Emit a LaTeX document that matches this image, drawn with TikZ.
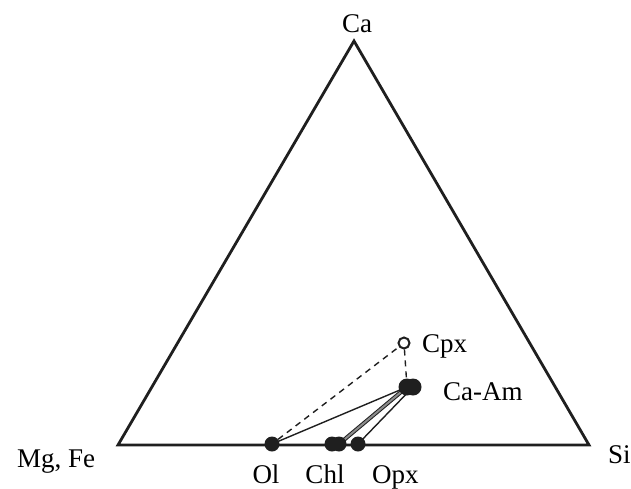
\documentclass[tikz,border=0pt]{standalone}
\usepackage{fontspec}
\setmainfont{Liberation Serif}
\usetikzlibrary{backgrounds}
\begin{document}
\begin{tikzpicture}[x=1pt,y=-1pt,
  lab/.style={inner sep=0pt,font=\fontsize{27}{27}\selectfont},
  dot/.style={circle,fill=black!88,inner sep=0pt,minimum size=15pt},
  bigdot/.style={circle,fill=black!88,inner sep=0pt,minimum size=17pt},
  odot/.style={circle,draw=black!88,fill=white,line width=2pt,inner sep=0pt,minimum size=11pt},
  side/.style={draw=black!88,line width=2.8pt,line join=miter},
  tie/.style={draw=black!88,line width=1.4pt},
  dtie/.style={draw=black!88,line width=1.4pt,dash pattern=on 6pt off 5pt},
  band/.style={draw=black!88,line width=1pt,double=black!45,double distance=2pt}]
\useasboundingbox (0,0) rectangle (631,488);
% vertices
\coordinate (mg) at (118,445);
\coordinate (si) at (589,445);
\coordinate (ca) at (354,41);
% phases
\node[dot] (ol) at (272,444) {};
\node[dot] (chla) at (332,444) {};
\node[dot] (chlb) at (339,444) {};
\node[dot] (opx) at (358,444) {};
\node[bigdot] (caama) at (407,387) {};
\node[bigdot] (caamb) at (413,387) {};
\node[odot] (cpx) at (404,343) {};
\begin{scope}[on background layer]
  \draw[side] (mg) -- (si) -- (ca) -- cycle;
  \draw[dtie] (ol) -- (cpx);
  \draw[dtie] (cpx) -- (caama);
  \draw[tie] (ol.center) -- (caama.center);
  \draw[band] (chlb.center) -- (caama.center);
  \draw[tie] (opx.center) -- (caamb.center);
\end{scope}
% labels
\node[lab,anchor=base] (lca) at (357,32) {Ca};
\node[lab,anchor=base west] (lmg) at (17,467) {Mg, Fe};
\node[lab,anchor=base west] (lsi) at (608,463) {Si};
\node[lab,anchor=base] (lol) at (266,483) {Ol};
\node[lab,anchor=base] (lchl) at (325,483) {Chl};
\node[lab,anchor=base west] (lopx) at (372,483) {Opx};
\node[lab,anchor=base west] (lcpx) at (422,352) {Cpx};
\node[lab,anchor=base west] (lcaam) at (443,400) {Ca-Am};
\end{tikzpicture}
\end{document}
